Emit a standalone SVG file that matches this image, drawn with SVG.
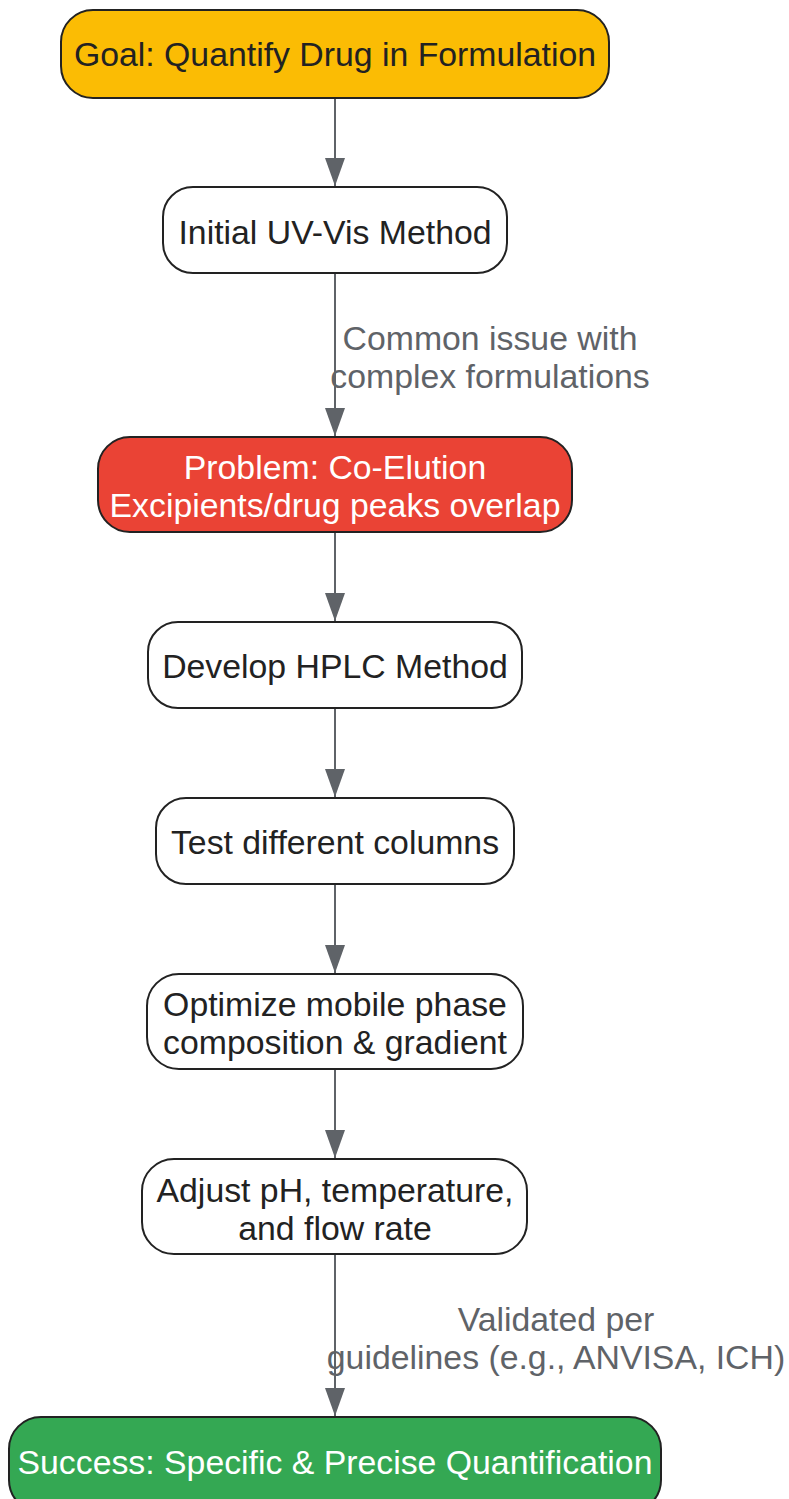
<svg xmlns="http://www.w3.org/2000/svg" width="789" height="1499" viewBox="0 0 789 1499">
<style>
.node{stroke:#222;stroke-width:2}
.t{font-family:"Liberation Sans",Arial,sans-serif;font-size:33.8px;text-anchor:middle;fill:#222}
.w{fill:#fff}
.lbl{font-family:"Liberation Sans",Arial,sans-serif;font-size:33.8px;text-anchor:middle;fill:#5f6368}
.edge{stroke:#5f6368;stroke-width:2;fill:none}
</style>
<defs>
<marker id="arr" viewBox="0 0 10 10" preserveAspectRatio="none" refX="10" refY="5" markerWidth="28" markerHeight="20" orient="auto" markerUnits="userSpaceOnUse">
<path d="M0,0 L10,5 L0,10 z" fill="#5f6368"/>
</marker>
</defs>
<rect width="789" height="1499" fill="#fff"/>
<g id="connectors">
<line class="edge" x1="335" y1="98" x2="335" y2="186" marker-end="url(#arr)"/>
<line class="edge" x1="335" y1="273" x2="335" y2="436" marker-end="url(#arr)"/>
<line class="edge" x1="335" y1="532" x2="335" y2="621" marker-end="url(#arr)"/>
<line class="edge" x1="335" y1="708" x2="335" y2="797" marker-end="url(#arr)"/>
<line class="edge" x1="335" y1="884" x2="335" y2="973" marker-end="url(#arr)"/>
<line class="edge" x1="335" y1="1069" x2="335" y2="1158" marker-end="url(#arr)"/>
<line class="edge" x1="335" y1="1254" x2="335" y2="1416" marker-end="url(#arr)"/>
<text class="lbl" x="490" y="350">Common issue with</text>
<text class="lbl" x="490" y="388">complex formulations</text>
<text class="lbl" x="556" y="1331">Validated per</text>
<text class="lbl" x="556" y="1369">guidelines (e.g., ANVISA, ICH)</text>
</g>
<g id="goal">
<rect class="node" x="61" y="10" width="548" height="88" rx="32" fill="#fbbc04"/>
<text class="t" x="335" y="66">Goal: Quantify Drug in Formulation</text>
</g>
<g id="uvvis">
<rect class="node" x="163" y="187" width="344" height="86" rx="30" fill="#fff"/>
<text class="t" x="335" y="244">Initial UV-Vis Method</text>
</g>
<g id="problem">
<rect class="node" x="98" y="437" width="474" height="95" rx="32" fill="#ea4335"/>
<text class="t w" x="335" y="479">Problem: Co-Elution</text>
<text class="t w" x="335" y="517">Excipients/drug peaks overlap</text>
</g>
<g id="hplc">
<rect class="node" x="148" y="622" width="374" height="86" rx="30" fill="#fff"/>
<text class="t" x="335" y="678">Develop HPLC Method</text>
</g>
<g id="columns">
<rect class="node" x="156" y="798" width="358" height="86" rx="30" fill="#fff"/>
<text class="t" x="335" y="854">Test different columns</text>
</g>
<g id="mobile">
<rect class="node" x="147" y="974" width="376" height="95" rx="32" fill="#fff"/>
<text class="t" x="335" y="1016">Optimize mobile phase</text>
<text class="t" x="335" y="1054">composition &amp; gradient</text>
</g>
<g id="adjust">
<rect class="node" x="142" y="1159" width="385" height="95" rx="32" fill="#fff"/>
<text class="t" x="335" y="1202">Adjust pH, temperature,</text>
<text class="t" x="335" y="1240">and flow rate</text>
</g>
<g id="success">
<rect class="node" x="9" y="1417" width="652" height="95" rx="32" fill="#34a853"/>
<text class="t w" x="335" y="1474">Success: Specific &amp; Precise Quantification</text>
</g>
</svg>
